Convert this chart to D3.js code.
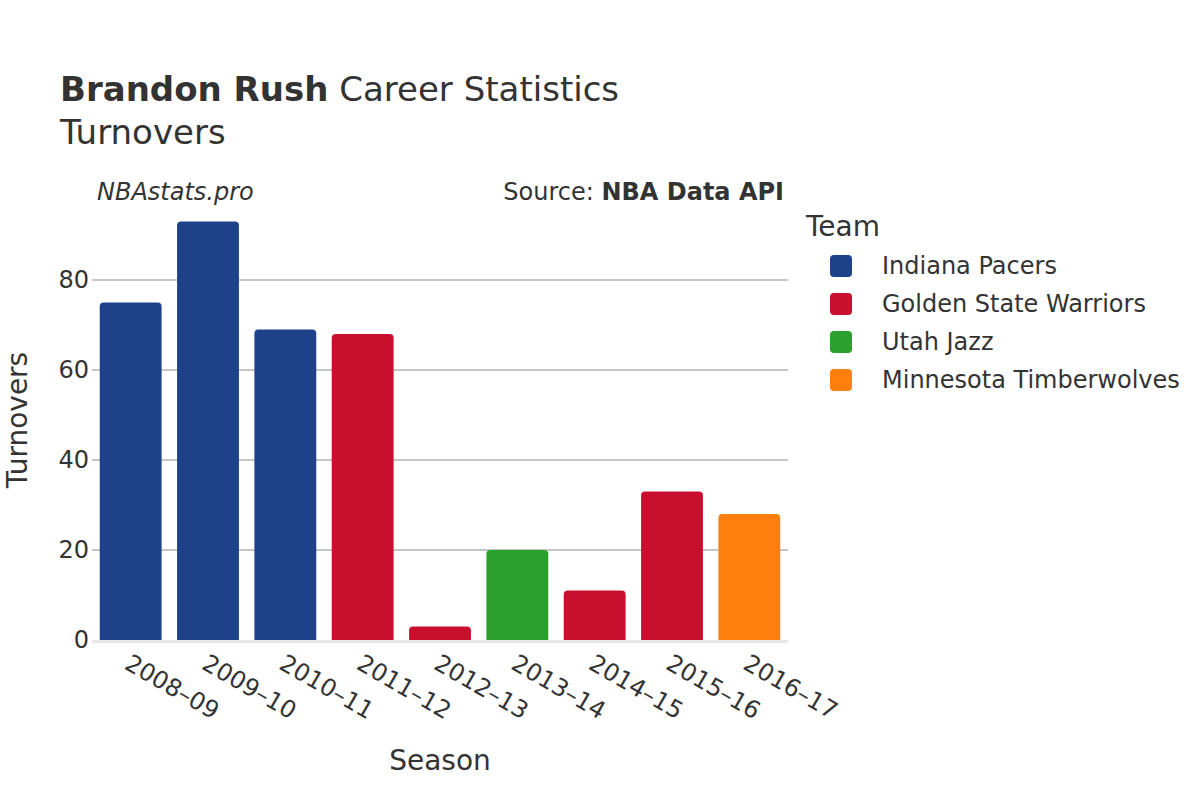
<!DOCTYPE html>
<html><head><meta charset="utf-8">
<script src="https://cdn.jsdelivr.net/npm/d3@7"></script>
<style>body{margin:0;background:#fff}svg{font-family:"DejaVu Sans",sans-serif}</style>
</head><body><svg id="c" width="1200" height="800"></svg>
<script>
const seasons = ["2008–09","2009–10","2010–11","2011–12","2012–13","2013–14","2014–15","2015–16","2016–17"];
const turnovers = [75,93,69,68,3,20,11,33,28];
const teams = ["Indiana Pacers","Indiana Pacers","Indiana Pacers","Golden State Warriors","Golden State Warriors","Utah Jazz","Golden State Warriors","Golden State Warriors","Minnesota Timberwolves"];
const legendTeams = ["Indiana Pacers","Golden State Warriors","Utah Jazz","Minnesota Timberwolves"];
const teamColors = ["#1d428a","#c8102e","#2ca02c","#ff7f0e"];
const yTicks = [0,20,40,60,80];

const svg = d3.select("#c");
const m = {l:92, r:788, t:180, b:640};
const x = d3.scaleBand().domain(seasons).range([m.l, m.r]).paddingInner(0.2).paddingOuter(0.1);
const y = d3.scaleLinear().domain([0, 100]).range([m.b, m.b - 450]);
const color = d3.scaleOrdinal().domain(legendTeams).range(teamColors);

// grid
svg.append("g").selectAll("line").data(yTicks.filter(d=>d>0)).join("line")
  .attr("x1", m.l).attr("x2", m.r).attr("y1", d=>y(d)).attr("y2", d=>y(d))
  .attr("stroke", "#8c8c8c").attr("stroke-width", 1);

// y axis labels
const yAxis = d3.axisLeft(y).tickValues(yTicks).tickSize(0).tickPadding(3);
const ya = svg.append("g").attr("transform", `translate(${m.l},0)`).call(yAxis);
ya.select(".domain").remove();
ya.selectAll("text").attr("font-size", 24).attr("fill", "#333").attr("font-family","DejaVu Sans");

// bars with rounded top
const r = 4;
function barPath(d, i) {
  const x0 = x(seasons[i]), w = x.bandwidth(), y0 = y(0), y1 = y(d);
  const rr = Math.min(r, (y0 - y1));
  return `M${x0},${y0}V${y1+rr}Q${x0},${y1} ${x0+rr},${y1}H${x0+w-rr}Q${x0+w},${y1} ${x0+w},${y1+rr}V${y0}Z`;
}
svg.append("g").selectAll("path").data(turnovers).join("path")
  .attr("d", (d,i)=>barPath(d,i)).attr("fill", (d,i)=>color(teams[i]));

// zero line
svg.append("line").attr("x1", m.l).attr("x2", m.r).attr("y1", y(0)+1.5).attr("y2", y(0)+1.5)
  .attr("stroke", "#e6e6e6").attr("stroke-width", 3);

// x axis labels
const xa = svg.append("g").attr("transform", `translate(0,${y(0)})`)
  .call(d3.axisBottom(x).tickSize(0).tickPadding(0));
xa.select(".domain").remove();
xa.selectAll("text").attr("font-size", 24).attr("fill", "#333").attr("font-family","DejaVu Sans")
  .attr("text-anchor", "start").attr("dy", null).attr("y", 0)
  .attr("transform", "translate(-4,22) rotate(30)").attr("dominant-baseline","middle");

// titles
const t = svg.append("text").attr("x", 60).attr("y", 101).attr("font-size", 34).attr("fill", "#333");
t.append("tspan").attr("font-weight", "bold").text("Brandon Rush");
t.append("tspan").text(" Career Statistics");
svg.append("text").attr("x", 60).attr("y", 144).attr("font-size", 34).attr("fill", "#333").text("Turnovers");
svg.append("text").attr("x", 97).attr("y", 200).attr("font-size", 24).attr("font-style", "italic").attr("fill", "#333").text("NBAstats.pro");
const s = svg.append("text").attr("x", 784).attr("y", 200).attr("font-size", 24).attr("fill", "#333").attr("text-anchor", "end");
s.append("tspan").text("Source: ");
s.append("tspan").attr("font-weight", "bold").text("NBA Data API");

svg.append("text").attr("x", 440).attr("y", 770).attr("font-size", 28).attr("fill", "#333").attr("text-anchor", "middle").text("Season");
svg.append("text").attr("transform", "translate(27,420) rotate(-90)").attr("font-size", 28).attr("fill", "#333").attr("text-anchor", "middle").text("Turnovers");

// legend
const lg = svg.append("g");
lg.append("text").attr("x", 806).attr("y", 236).attr("font-size", 28).attr("fill", "#333").text("Team");
const li = lg.selectAll("g.item").data(legendTeams).join("g").attr("class","item")
  .attr("transform", (d,i)=>`translate(0,${266 + i*38})`);
li.append("rect").attr("x", 830).attr("y", -11).attr("width", 22).attr("height", 22).attr("rx", 4)
  .attr("fill", d=>color(d));
li.append("text").attr("x", 882).attr("y", 0).attr("dy", "0.35em").attr("font-size", 24).attr("fill", "#333").text(d=>d);
</script></body></html>
